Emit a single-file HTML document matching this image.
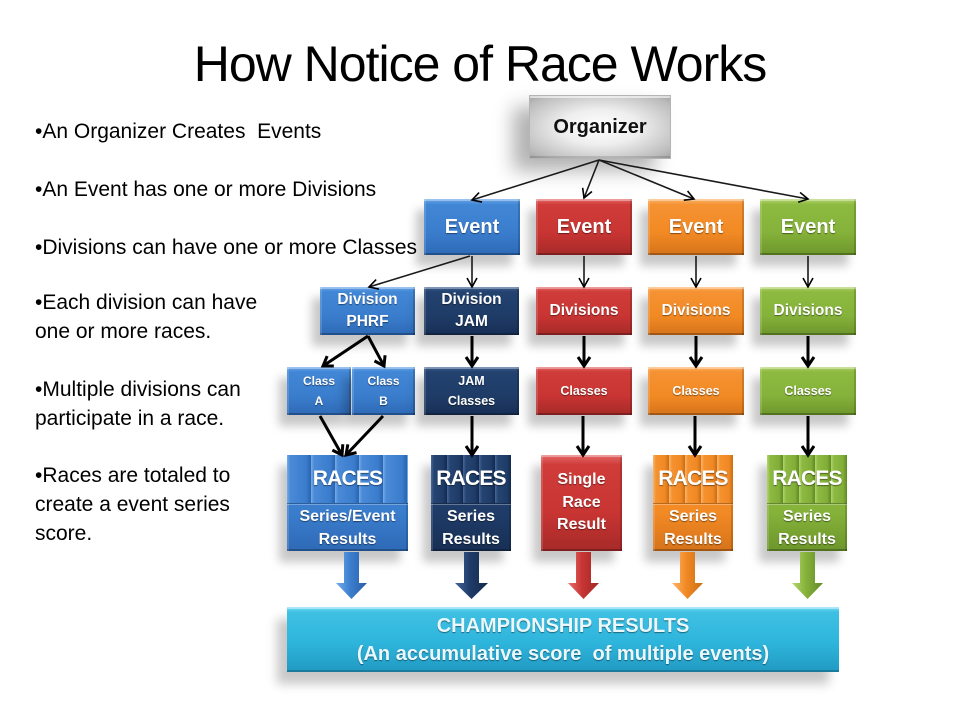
<!DOCTYPE html>
<html>
<head>
<meta charset="utf-8">
<style>
html,body{margin:0;padding:0;background:#fff;}
#c{position:relative;width:960px;height:720px;overflow:hidden;background:#fff;font-family:"Liberation Sans",Arial,sans-serif;}
.t{position:absolute;white-space:nowrap;color:#000;}
.bx{position:absolute;display:flex;align-items:center;justify-content:center;text-align:center;color:#fff;font-weight:bold;text-shadow:0 1px 1px rgba(0,0,0,0.45);box-sizing:border-box;}
.sh{box-shadow:inset 0 2px 0 rgba(255,255,255,0.35),inset 2px 0 0 rgba(255,255,255,0.15),inset -2px 0 0 rgba(0,0,0,0.15),inset 0 -2px 0 rgba(0,0,0,0.25),-8px 11px 9px rgba(0,0,0,0.22);}
.blue{background:linear-gradient(#6aa5e8 0%,#4287d6 10%,#3a7dcd 60%,#2e6ab6 100%);}
.navy{background:linear-gradient(#3f5f93 0%,#23426f 10%,#1f3c68 60%,#172f55 100%);}
.red{background:linear-gradient(#e36a68 0%,#cf3c3a 10%,#c83533 60%,#a62a28 100%);}
.orange{background:linear-gradient(#fbb46a 0%,#f59233 10%,#f28a24 60%,#d6731a 100%);}
.green{background:linear-gradient(#b2d46c 0%,#8dba40 10%,#85b23a 60%,#6d962b 100%);}
.cyan{background:linear-gradient(#79dcf3 0%,#3fc0e3 8%,#2eb5dc 55%,#2199c2 100%);}
.ev{font-size:20px;}
.dv{font-size:15.5px;line-height:22px;}
.cl{font-size:12.5px;line-height:20px;}
.races{position:absolute;left:0;top:0;right:0;height:48px;display:flex;align-items:center;justify-content:center;font-size:21px;letter-spacing:-0.8px;}
.res{position:absolute;left:0;top:48px;right:0;bottom:0;display:flex;align-items:center;justify-content:center;font-size:16px;line-height:23px;border-top:1px solid rgba(0,0,0,0.25);box-shadow:inset 0 1px 0 rgba(255,255,255,0.3);}
</style>
</head>
<body>
<div id="c">
  <div class="t" style="left:0;width:960px;text-align:center;top:39px;font-size:50px;line-height:50px;letter-spacing:-1px;">How Notice of Race Works</div>

  <div class="t" style="left:35px;top:120px;font-size:21px;line-height:24px;">•An Organizer Creates&nbsp; Events</div>
  <div class="t" style="left:35px;top:178px;font-size:21px;line-height:24px;">•An Event has one or more Divisions</div>
  <div class="t" style="left:35px;top:236px;font-size:21px;line-height:24px;">•Divisions can have one or more Classes</div>
  <div class="t" style="left:35px;top:288px;font-size:21px;line-height:29px;">•Each division can have<br>one or more races.</div>
  <div class="t" style="left:35px;top:375px;font-size:21px;line-height:29px;">•Multiple divisions can<br>participate in a race.</div>
  <div class="t" style="left:35px;top:461px;font-size:21px;line-height:29px;">•Races are totaled to<br>create a event series<br>score.</div>

  <!-- Organizer -->
  <div class="bx" style="left:529px;top:95px;width:142px;height:64px;background:radial-gradient(ellipse at 50% 50%,#ffffff 0%,#eeeeee 40%,#bdbdbd 85%,#a5a5a5 100%);border:1px solid #b5b5b5;color:#111;text-shadow:none;font-size:20px;box-shadow:inset 0 2px 0 rgba(255,255,255,0.6),inset 0 -2px 0 rgba(0,0,0,0.12),-16px 12px 18px rgba(0,0,0,0.3);">Organizer</div>

  <!-- Events -->
  <div class="bx sh blue ev" style="left:424px;top:199px;width:96px;height:56px;">Event</div>
  <div class="bx sh red ev" style="left:536px;top:199px;width:96px;height:56px;">Event</div>
  <div class="bx sh orange ev" style="left:648px;top:199px;width:96px;height:56px;">Event</div>
  <div class="bx sh green ev" style="left:760px;top:199px;width:96px;height:56px;">Event</div>

  <!-- Divisions -->
  <div class="bx sh blue dv" style="left:320px;top:287px;width:95px;height:48px;">Division<br>PHRF</div>
  <div class="bx sh navy dv" style="left:424px;top:287px;width:95px;height:48px;">Division<br>JAM</div>
  <div class="bx sh red dv" style="left:536px;top:287px;width:96px;height:48px;">Divisions</div>
  <div class="bx sh orange dv" style="left:648px;top:287px;width:96px;height:48px;">Divisions</div>
  <div class="bx sh green dv" style="left:760px;top:287px;width:96px;height:48px;">Divisions</div>

  <!-- Classes -->
  <div class="bx sh blue cl" style="left:287px;top:367px;width:64px;height:48px;font-size:12px;">Class<br>A</div>
  <div class="bx sh blue cl" style="left:352px;top:367px;width:63px;height:48px;font-size:12px;">Class<br>B</div>
  <div class="bx sh navy cl" style="left:424px;top:367px;width:95px;height:48px;">JAM<br>Classes</div>
  <div class="bx sh red cl" style="left:536px;top:367px;width:96px;height:48px;">Classes</div>
  <div class="bx sh orange cl" style="left:648px;top:367px;width:96px;height:48px;">Classes</div>
  <div class="bx sh green cl" style="left:760px;top:367px;width:96px;height:48px;">Classes</div>

  <!-- Results -->
  <div class="bx sh blue" style="left:287px;top:455px;width:121px;height:96px;">
    <div class="races" style="background:repeating-linear-gradient(to right,#77adea 0px,#4a8ad6 3px,#3b7dcd 19px,#2a63ad 24px);">RACES</div>
    <div class="res">Series/Event<br>Results</div>
  </div>
  <div class="bx sh navy" style="left:431px;top:455px;width:80px;height:96px;">
    <div class="races" style="background:repeating-linear-gradient(to right,#47679b 0px,#25446f 3px,#1f3c68 12px,#132a4c 16px);">RACES</div>
    <div class="res">Series<br>Results</div>
  </div>
  <div class="bx sh red" style="left:541px;top:455px;width:81px;height:96px;font-size:16px;line-height:22.5px;">Single<br>Race<br>Result</div>
  <div class="bx sh orange" style="left:653px;top:455px;width:80px;height:96px;">
    <div class="races" style="background:repeating-linear-gradient(to right,#fbb56c 0px,#f5922f 3px,#f08824 12px,#c96c14 16px);">RACES</div>
    <div class="res">Series<br>Results</div>
  </div>
  <div class="bx sh green" style="left:767px;top:455px;width:80px;height:96px;">
    <div class="races" style="background:repeating-linear-gradient(to right,#b3d46e 0px,#8dba42 3px,#82ae38 12px,#5f8a24 16px);">RACES</div>
    <div class="res">Series<br>Results</div>
  </div>

  <!-- Championship -->
  <div class="bx cyan" style="left:287px;top:607px;width:552px;height:65px;font-size:20px;line-height:28px;color:#eaf8fc;box-shadow:inset 0 2px 0 rgba(255,255,255,0.4),inset 0 -2px 0 rgba(0,0,0,0.2),-10px 12px 10px rgba(0,0,0,0.22);">CHAMPIONSHIP RESULTS<br>(An accumulative score&nbsp; of multiple events)</div>

  <svg width="960" height="720" style="position:absolute;left:0;top:0;" xmlns="http://www.w3.org/2000/svg">
    <defs>
      <marker id="thin" markerUnits="userSpaceOnUse" markerWidth="14" markerHeight="14" viewBox="0 0 14 14" refX="12" refY="7" orient="auto">
        <path d="M3,2 L12,7 L3,12" fill="none" stroke="#000" stroke-width="1.6"/>
      </marker>
      <marker id="thick" markerUnits="userSpaceOnUse" markerWidth="16" markerHeight="16" viewBox="0 0 16 16" refX="13" refY="8" orient="auto">
        <path d="M4,2 L13,8 L4,14" fill="none" stroke="#000" stroke-width="3"/>
      </marker>
      <linearGradient id="gblue" x1="0" x2="1"><stop offset="0" stop-color="#73abea"/><stop offset="0.45" stop-color="#3c7fcf"/><stop offset="1" stop-color="#2a5fa6"/></linearGradient>
      <linearGradient id="gnavy" x1="0" x2="1"><stop offset="0" stop-color="#44659a"/><stop offset="0.45" stop-color="#1f3c68"/><stop offset="1" stop-color="#142a4b"/></linearGradient>
      <linearGradient id="gred" x1="0" x2="1"><stop offset="0" stop-color="#e66e6c"/><stop offset="0.45" stop-color="#c83533"/><stop offset="1" stop-color="#a02826"/></linearGradient>
      <linearGradient id="gorange" x1="0" x2="1"><stop offset="0" stop-color="#fbb66e"/><stop offset="0.45" stop-color="#f28a24"/><stop offset="1" stop-color="#cc6c14"/></linearGradient>
      <linearGradient id="ggreen" x1="0" x2="1"><stop offset="0" stop-color="#b4d670"/><stop offset="0.45" stop-color="#85b23a"/><stop offset="1" stop-color="#62892a"/></linearGradient>
    </defs>
    <g stroke="#1a1a1a" stroke-width="1.6" fill="none" marker-end="url(#thin)">
      <line x1="599" y1="160" x2="472" y2="200"/>
      <line x1="599" y1="160" x2="584" y2="198"/>
      <line x1="599" y1="160" x2="694" y2="199"/>
      <line x1="599" y1="160" x2="808" y2="199"/>
      <line x1="470" y1="256" x2="369" y2="287"/>
      <line x1="472" y1="256" x2="472" y2="287"/>
      <line x1="584" y1="256" x2="584" y2="287"/>
      <line x1="696" y1="256" x2="696" y2="287"/>
      <line x1="808" y1="256" x2="808" y2="287"/>
    </g>
    <g stroke="#000" stroke-width="3" fill="none" marker-end="url(#thick)">
      <line x1="368" y1="336" x2="323" y2="366"/>
      <line x1="368" y1="336" x2="384" y2="366"/>
      <line x1="472" y1="336" x2="472" y2="366"/>
      <line x1="584" y1="336" x2="584" y2="366"/>
      <line x1="696" y1="336" x2="696" y2="366"/>
      <line x1="808" y1="336" x2="808" y2="366"/>
      <line x1="320" y1="416" x2="342" y2="455"/>
      <line x1="383" y1="416" x2="346" y2="455"/>
      <line x1="472" y1="416" x2="472" y2="455"/>
      <line x1="583" y1="416" x2="583" y2="455"/>
      <line x1="695" y1="416" x2="695" y2="455"/>
      <line x1="808" y1="416" x2="808" y2="455"/>
    </g>
    <!-- block arrows -->
    <polygon points="344,552 359,552 359,583 367,583 351.5,599 336,583 344,583" fill="url(#gblue)"/>
    <polygon points="464,552 479,552 479,583 488,583 471.5,599 455,583 464,583" fill="url(#gnavy)"/>
    <polygon points="576,552 591,552 591,583 599,583 583.5,599 568,583 576,583" fill="url(#gred)"/>
    <polygon points="680,552 695,552 695,583 703,583 687.5,599 672,583 680,583" fill="url(#gorange)"/>
    <polygon points="800,552 815,552 815,583 823,583 807.5,599 792,583 800,583" fill="url(#ggreen)"/>
  </svg>
</div>
</body>
</html>
